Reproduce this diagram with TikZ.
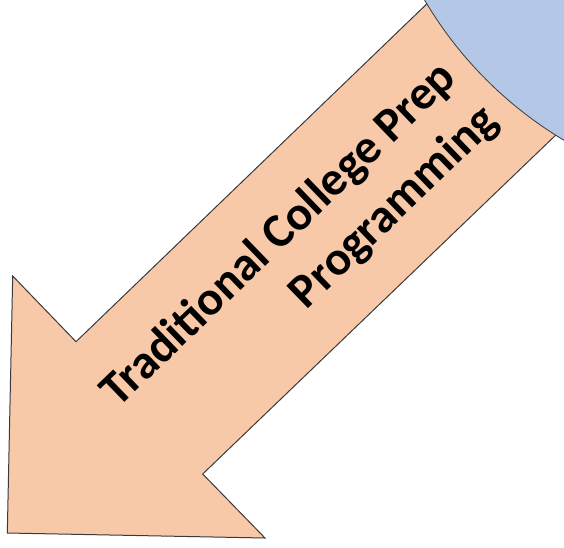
\documentclass[tikz,border=0pt]{standalone}
\usepackage{fontspec}
\setmainfont{Carlito}
\definecolor{peach}{HTML}{F8C9A9}
\definecolor{paleblue}{HTML}{B4C7E7}
\definecolor{edge}{HTML}{3A3A3A}
\begin{document}
\begin{tikzpicture}[x=1pt,y=-1pt,
  arrowshape/.style={fill=peach,draw=edge,line width=1pt,line join=miter},
  disc/.style={fill=paleblue,draw=edge,line width=0.8pt},
  label/.style={font=\fontsize{48}{60}\selectfont\bfseries,align=right,inner sep=0pt,rotate=44,anchor=east}]
\useasboundingbox (0,0) rectangle (564,547);
\begin{scope}
\clip (0,0) rectangle (564,547);
\draw[arrowshape] (462,-30) -- (76,341.7) -- (12.7,276) -- (7.3,533) -- (265,538) -- (202.7,474) -- (585,107) -- cycle;
\draw[disc] (767,-201) circle[radius=397];
\end{scope}
\node[label] (txt) at (470.5,92.5) {Traditional College Prep\\Programming};
\end{tikzpicture}
\end{document}
